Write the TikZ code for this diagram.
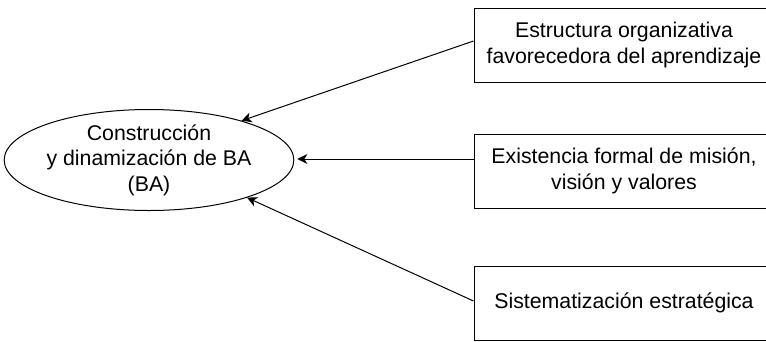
\documentclass[tikz,border=0pt]{standalone}
\usepackage{fontspec}
\setmainfont{Liberation Sans}
\usetikzlibrary{arrows.meta,shapes.geometric}
\begin{document}
\begin{tikzpicture}[x=1pt,y=-1pt,
  txt/.style={font=\fontsize{21.3}{25.6}\selectfont, align=center, text=black},
  box/.style={txt, draw=black, line width=1pt, rectangle, minimum width=300pt, minimum height=74pt, inner sep=0pt},
  ell/.style={txt, draw=black, line width=1pt, ellipse, minimum width=282pt, minimum height=101pt, inner sep=0pt},
  conn/.style={draw=black, line width=1pt, -{Stealth[length=10pt,width=10pt,inset=3pt]}}]
\clip (0,0) rectangle (766,341);
\fill[white] (0,0) rectangle (766,341);
\node[ell] (ba) at (149,160) {Construcción\\y dinamización de BA\\(BA)};
\node[box] (top) at (624,45) {Estructura organizativa\\favorecedora del aprendizaje};
\node[box] (mid) at (624,171) {Existencia formal de misión,\\visión y valores};
\node[box] (bot) at (624,303) {Sistematización estratégica};
\draw[conn] ([yshift=4pt]top.west) -- (ba.23.5);
\draw[conn] ([yshift=12pt]mid.west) -- ([xshift=3pt,yshift=1pt]ba.east);
\draw[conn] ([yshift=2pt]bot.west) -- (ba.-21);
\end{tikzpicture}
\end{document}
